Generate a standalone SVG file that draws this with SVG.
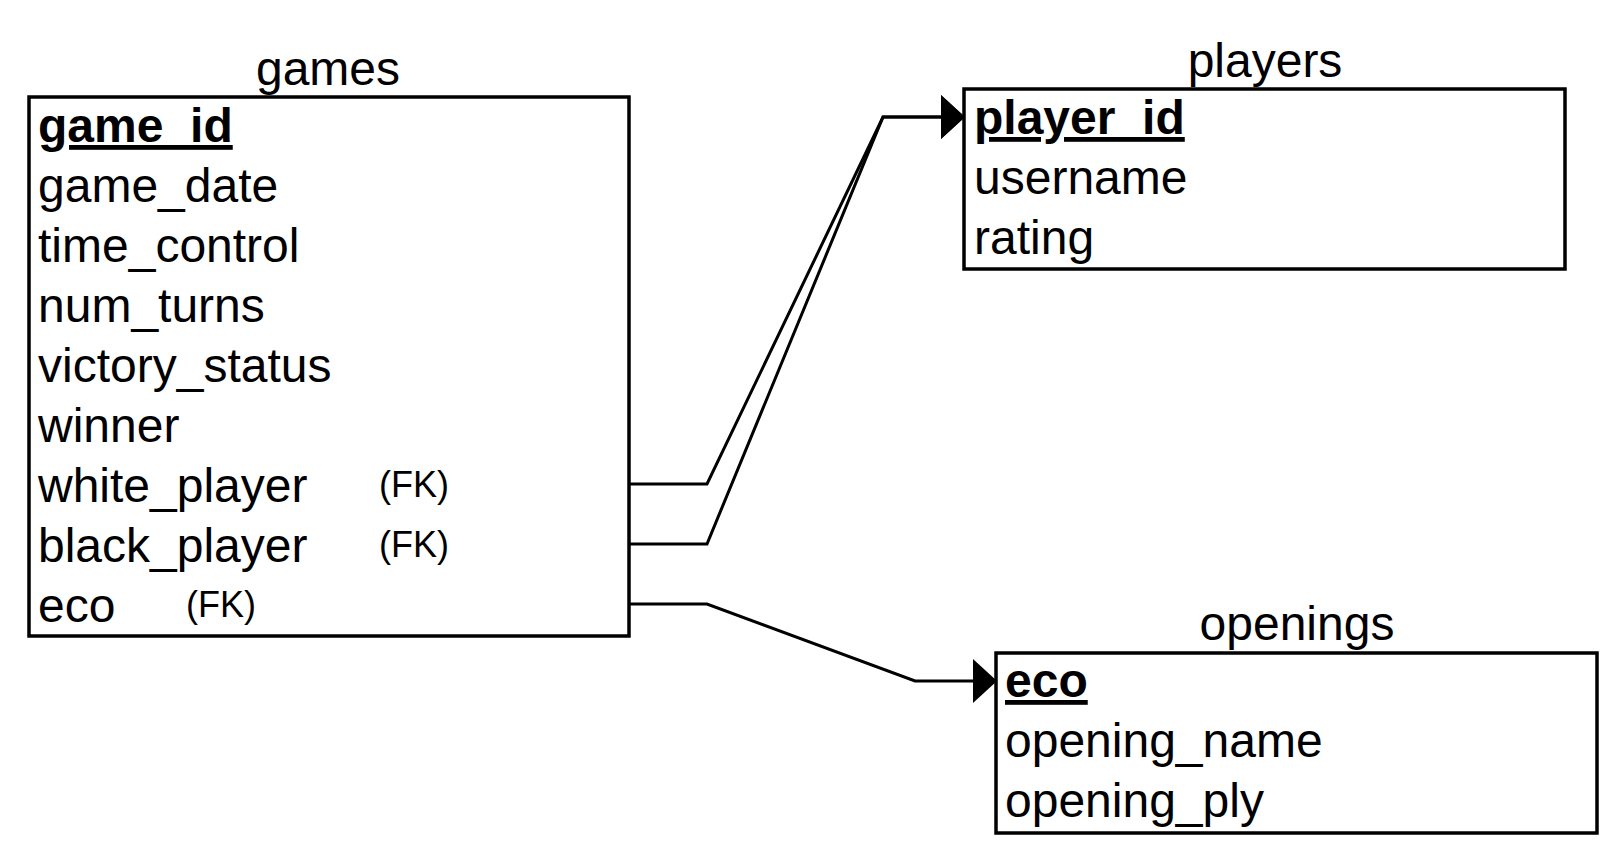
<svg xmlns="http://www.w3.org/2000/svg" width="1624" height="860" viewBox="0 0 1624 860" font-family="'Liberation Sans', Arial, sans-serif">
<style>
.box{fill:#fff;stroke:#000;stroke-width:3.5}
.t{font-size:48px;fill:#000}
.title{text-anchor:middle}
.pk{font-weight:bold;text-decoration:underline}
.fk{font-size:36px;fill:#000}
.c{fill:none;stroke:#000;stroke-width:3;stroke-linejoin:miter}
</style>
<defs>
<marker id="arr" markerUnits="userSpaceOnUse" markerWidth="26" markerHeight="46" refX="0" refY="23" orient="auto" viewBox="0 0 26 46">
<path d="M0,1 L24,23 L0,45 Z" fill="#000"/>
</marker>
</defs>
<rect width="1624" height="860" fill="#fff"/>
<g id="connectors">
<path class="c" d="M629,484 H707 L883,117 H941" marker-end="url(#arr)"/>
<path class="c" d="M629,544 H707 L883,117 H941" marker-end="url(#arr)"/>
<path class="c" d="M629,604 H707 L915,681 H973" marker-end="url(#arr)"/>
</g>
<g id="games">
<text class="t title" x="328" y="85">games</text>
<rect class="box" x="29" y="97" width="600" height="539"/>
<text class="t pk" x="38" y="142">game_id</text>
<text class="t" x="38" y="202">game_date</text>
<text class="t" x="38" y="262">time_control</text>
<text class="t" x="38" y="322">num_turns</text>
<text class="t" x="38" y="382">victory_status</text>
<text class="t" x="38" y="442">winner</text>
<text class="t" x="38" y="502">white_player</text>
<text class="fk" x="379" y="497">(FK)</text>
<text class="t" x="38" y="562">black_player</text>
<text class="fk" x="379" y="557">(FK)</text>
<text class="t" x="38" y="622">eco</text>
<text class="fk" x="186" y="617">(FK)</text>
</g>
<g id="players">
<text class="t title" x="1265" y="77">players</text>
<rect class="box" x="964" y="89" width="601" height="180"/>
<text class="t pk" x="974" y="134">player_id</text>
<text class="t" x="974" y="194">username</text>
<text class="t" x="974" y="254">rating</text>
</g>
<g id="openings">
<text class="t title" x="1297" y="640">openings</text>
<rect class="box" x="996" y="653" width="601" height="180"/>
<text class="t pk" x="1005" y="697">eco</text>
<text class="t" x="1005" y="757">opening_name</text>
<text class="t" x="1005" y="817">opening_ply</text>
</g>
</svg>
